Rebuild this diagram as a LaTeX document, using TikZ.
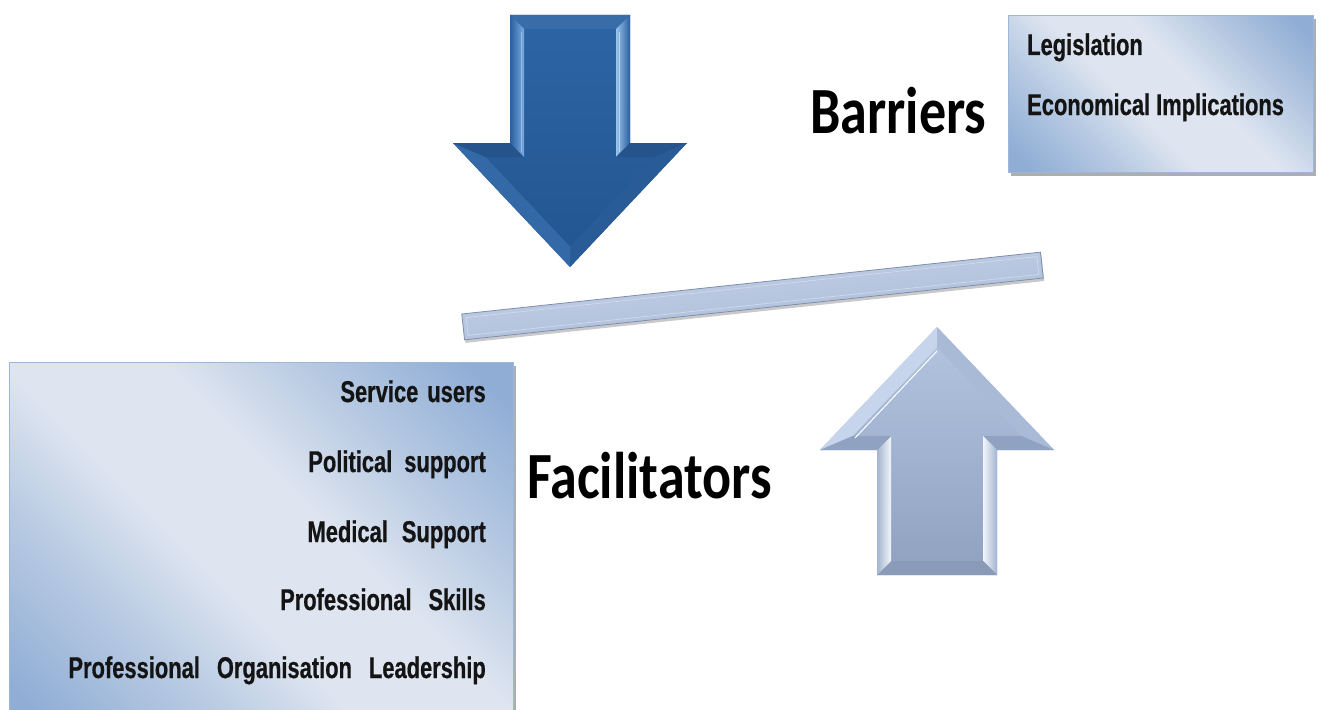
\documentclass[tikz,border=0pt]{standalone}
\usepackage{fontspec}
\setmainfont{Liberation Sans}
\newfontfamily\headfont{Carlito}[FakeStretch=0.82]
\newfontfamily\itemfont{Liberation Sans}[FakeStretch=0.73,FakeBold=0.6]
\usetikzlibrary{shadows}

% panel colours
\definecolor{boxblue}{HTML}{8FADD5}
\definecolor{boxmid}{HTML}{B9CBE3}
\definecolor{boxlight}{HTML}{DEE5F0}
\definecolor{panelline}{HTML}{9DB7D9}
% dark arrow
\definecolor{dkface1}{HTML}{2D65A5}
\definecolor{dkface2}{HTML}{225590}
\definecolor{dkshoulder}{HTML}{25548C}
\definecolor{dkheadL}{HTML}{3469A8}
\definecolor{dkheadR}{HTML}{295B96}
\definecolor{dkhiL}{HTML}{7AACE3}
\definecolor{dkhiR}{HTML}{98C3EE}
\definecolor{dkedge}{HTML}{2A5E9C}
% light arrow
\definecolor{ltface1}{HTML}{B4C5E0}
\definecolor{ltface2}{HTML}{8FA1C0}
\definecolor{ltheadL}{HTML}{C6D5EB}
\definecolor{ltheadR}{HTML}{A9BAD6}
\definecolor{ltshoulder}{HTML}{8FA2C1}
\definecolor{ltbottom}{HTML}{8A9BB8}
\definecolor{lthi}{HTML}{F2F6FC}
\definecolor{ltedge}{HTML}{A3B4D0}
% beam
\definecolor{beamtop}{HTML}{C6D2E8}
\definecolor{beambot}{HTML}{A9BAD6}
\definecolor{beamedge}{HTML}{7F8FAB}
\definecolor{beamhi}{HTML}{D2DCEE}

\pgfdeclarehorizontalshading{panelshade}{100bp}{%
  color(0bp)=(boxblue); color(18bp)=(boxblue); color(33bp)=(boxmid);
  color(44bp)=(boxlight); color(57bp)=(boxlight); color(68bp)=(boxmid);
  color(82bp)=(boxblue); color(100bp)=(boxblue)}

\begin{document}
\begin{tikzpicture}[x=1pt,y=1pt,
  panel/.style={draw=panelline, line width=0.8pt, shading=panelshade,
    shading angle=45, inner sep=0pt,
    drop shadow={shadow xshift=2.5pt, shadow yshift=-3.5pt, opacity=0.45, fill=black!70}},
  headtext/.style={font=\headfont\bfseries\fontsize{66}{79}\selectfont,
    text=black, inner sep=0pt},
  itemtext/.style={font=\itemfont\bfseries\fontsize{30}{36}\selectfont,
    text=black!92, inner sep=0pt}]
\useasboundingbox[fill=white] (0,0) rectangle (1340,-709);

% ---------- panels ----------
\node[panel, anchor=north west, minimum width=305pt, minimum height=157pt]
  (barbox) at (1008,-15) {};
\node[panel, anchor=north west, minimum width=504pt, minimum height=370pt]
  (facbox) at (9,-362) {};

% ---------- downward arrow (barriers) ----------
\shade[top color=dkface1, bottom color=dkface2]
  (510,-15) -- (630,-15) -- (630,-143) -- (687,-143) -- (570,-267)
  -- (453,-143) -- (510,-143) -- cycle;
\fill[dkface1!95!white] (510,-15) -- (630,-15) -- (616,-29) -- (524,-29) -- cycle;
\shade[left color=dkhiR, right color=dkedge]
  (630,-15) -- (630,-143) -- (616,-157) -- (616,-29) -- cycle;
\fill[dkshoulder] (630,-143) -- (687,-143) -- (654.5,-157) -- (616,-157) -- cycle;
\fill[dkheadR] (687,-143) -- (570,-267) -- (570,-246.6) -- (654.5,-157) -- cycle;
\fill[dkheadL] (570,-267) -- (453,-143) -- (485.5,-157) -- (570,-246.6) -- cycle;
\fill[dkshoulder] (453,-143) -- (510,-143) -- (524,-157) -- (485.5,-157) -- cycle;
\shade[left color=dkedge, right color=dkhiL]
  (510,-143) -- (510,-15) -- (524,-29) -- (524,-157) -- cycle;
\draw[dkhiR!70!white, line width=1pt] (619,-32) -- (619,-152);
\draw[dkhiL!80!white, line width=1pt] (521,-32) -- (521,-152);

% ---------- upward arrow (facilitators) ----------
\shade[top color=ltface1, bottom color=ltface2]
  (937,-327) -- (1054,-450) -- (997,-450) -- (997,-575) -- (877,-575)
  -- (877,-450) -- (820,-450) -- cycle;
\fill[ltheadL] (820,-450) -- (937,-327) -- (937,-347.4) -- (852.7,-436) -- cycle;
\fill[ltheadR] (937,-327) -- (1054,-450) -- (1021.3,-436) -- (937,-347.4) -- cycle;
\fill[ltshoulder] (1054,-450) -- (997,-450) -- (983,-436) -- (1021.3,-436) -- cycle;
\shade[left color=lthi, right color=ltedge]
  (997,-450) -- (997,-575) -- (983,-561) -- (983,-436) -- cycle;
\fill[ltbottom] (997,-575) -- (877,-575) -- (891,-561) -- (983,-561) -- cycle;
\shade[left color=ltedge, right color=lthi]
  (877,-575) -- (877,-450) -- (891,-436) -- (891,-561) -- cycle;
\fill[ltshoulder] (877,-450) -- (820,-450) -- (852.7,-436) -- (891,-436) -- cycle;
\draw[white, line width=1pt] (855,-438) -- (937,-351);

% ---------- balance beam ----------
\begin{scope}[shift={(752.5,-296)}, rotate=6.1]
  \shade[top color=beamtop, bottom color=beambot, shading angle=6.1,
    draw=beamedge, line width=0.8pt,
    drop shadow={shadow xshift=1pt, shadow yshift=-3pt, opacity=0.35, fill=black!60}]
    (-291,-13) rectangle (291,13);
  \draw[beamhi, line width=0.6pt] (-287,-9) rectangle (287,9);
\end{scope}

% ---------- labels ----------
\node[headtext, anchor=base west] (barriers) at (810,-133) {Barriers};
\node[itemtext, anchor=base west] (legis) at (1027,-55) {Legislation};
\node[itemtext, anchor=base west] (econ) at (1027,-115) {Economical Implications};

\node[headtext, anchor=base west] (facil) at (527,-498) {Facilitators};
\node[itemtext, anchor=base east] (f1) at (486,-402) {Service\hspace{9pt}users};
\node[itemtext, anchor=base east] (f2) at (486,-472) {Political\hspace{12pt}support};
\node[itemtext, anchor=base east] (f3) at (486,-542) {Medical\hspace{14pt}Support};
\node[itemtext, anchor=base east] (f4) at (486,-610) {Professional\hspace{17pt}Skills};
\node[itemtext, anchor=base east] (f5) at (486,-678)
  {Professional\hspace{17pt}Organisation\hspace{17pt}Leadership};
\end{tikzpicture}
\end{document}
